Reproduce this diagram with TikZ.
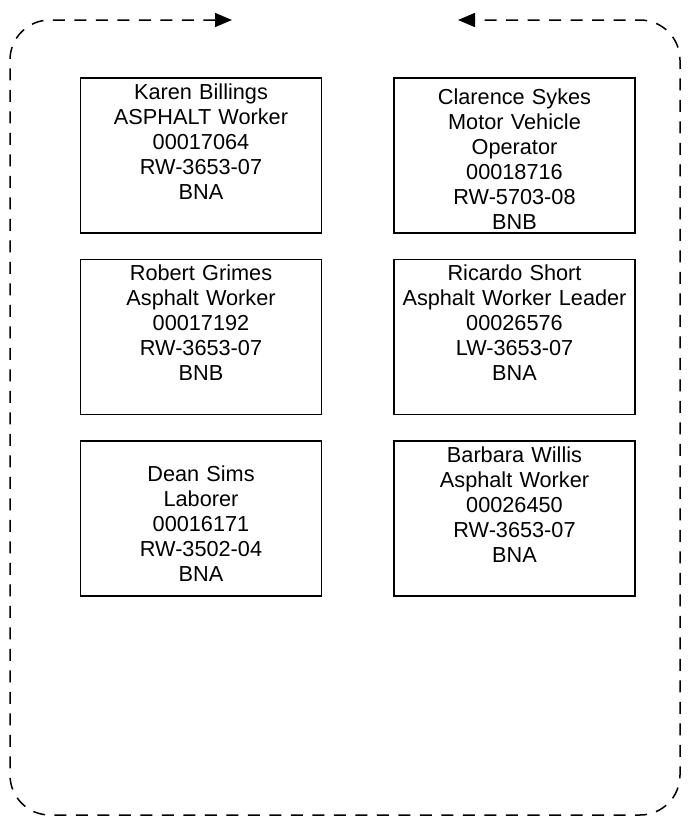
\documentclass[tikz,border=0pt]{standalone}
\usepackage{fontspec}
\setmainfont{Liberation Sans}
\usetikzlibrary{arrows.meta,positioning}

\begin{document}
\begin{tikzpicture}[x=1pt, y=-1pt, font=\fontsize{21.7pt}{25pt}\selectfont, node distance=25pt and 71pt,
  card/.style={draw, line width=1.5pt, align=center, text width=235pt, minimum width=241pt, inner sep=3pt,
               text height=18.5pt, text depth=130.5pt},
  frameline/.style={line width=1.5pt, dash pattern=on 12pt off 9.5pt, rounded corners=40pt,
                    {Triangle[length=17pt,width=14pt]}-{Triangle[length=17pt,width=14pt]}}]
\useasboundingbox (0,0) rectangle (690,822);

% ---------------- crew cards, two columns
\node[card, anchor=north] (karen) at (201,77) {Karen Billings\\ASPHALT Worker\\00017064\\RW-3653-07\\BNA};
\node[card, below=of karen] (robert) {Robert Grimes\\Asphalt Worker\\00017192\\RW-3653-07\\BNB};
\node[card, below=of robert, text height=37.5pt, text depth=111.5pt] (dean) {Dean Sims\\Laborer\\00016171\\RW-3502-04\\BNA};
\node[card, right=of karen, text height=23.5pt, text depth=125.5pt] (clarence) {Clarence Sykes\\Motor Vehicle\\Operator\\00018716\\RW-5703-08\\BNB};
\node[card, right=of robert] (ricardo) {Ricardo Short\\Asphalt Worker Leader\\00026576\\LW-3653-07\\BNA};
\node[card, right=of dean] (barbara) {Barbara Willis\\Asphalt Worker\\00026450\\RW-3653-07\\BNA};

% ---------------- dashed loop round the crew
\coordinate (tipl) at (232,20);
\coordinate (tipr) at (458,20);
\draw[frameline] (tipl) -- (10,20) -- (10,815) -- (680,815) -- (680,20) -- (tipr);
\end{tikzpicture}
\end{document}
